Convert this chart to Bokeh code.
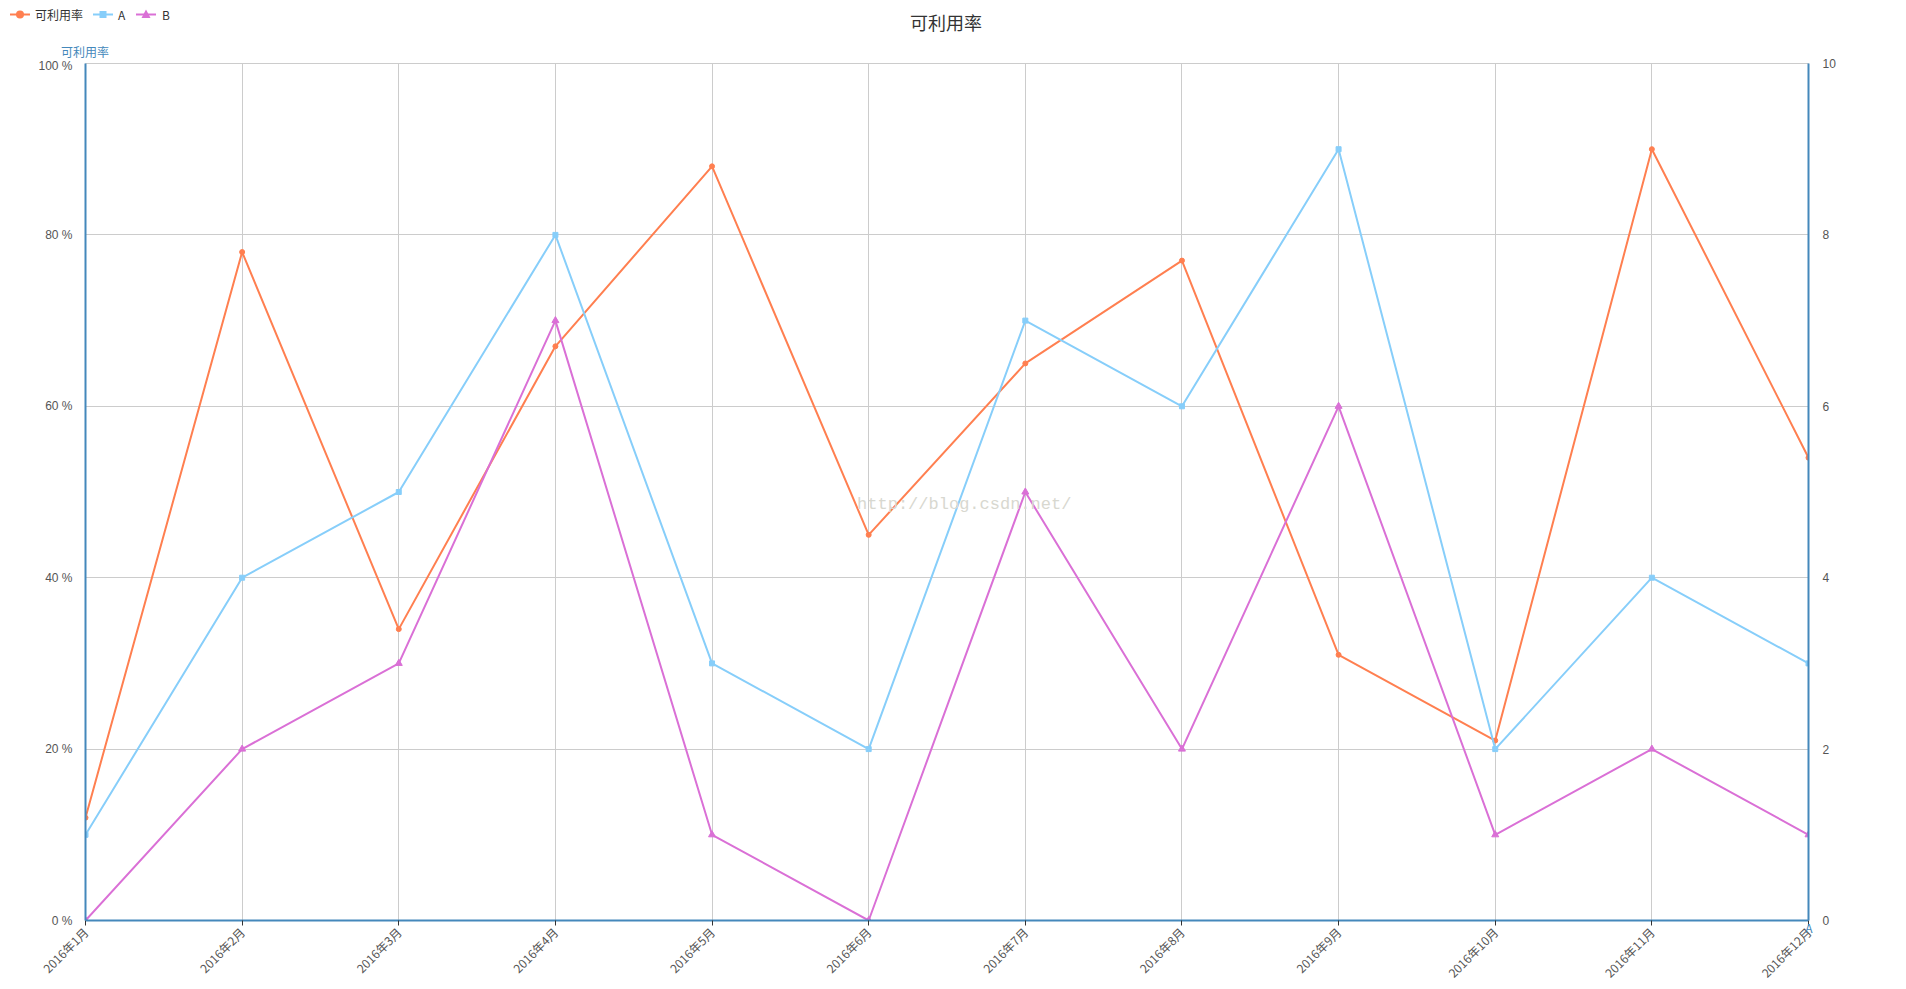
from math import pi
from bokeh.plotting import figure
from bokeh.layouts import column
from bokeh.models import (Range1d, LinearAxis, FixedTicker, PrintfTickFormatter,
                          Label, ColumnDataSource, Div)
from bokeh.embed import file_html
from bokeh.resources import INLINE

months = ["2016年1月", "2016年2月", "2016年3月", "2016年4月", "2016年5月", "2016年6月",
          "2016年7月", "2016年8月", "2016年9月", "2016年10月", "2016年11月", "2016年12月"]
rate = [12, 78, 34, 67, 88, 45, 65, 77, 31, 21, 90, 54]
series_a = [1, 4, 5, 8, 3, 2, 7, 6, 9, 2, 4, 3]
series_b = [0, 2, 3, 7, 1, 0, 5, 2, 6, 1, 2, 1]
series_names = ["可利用率", "A", "B"]
left_ticks = [0, 20, 40, 60, 80, 100]
right_ticks = [0, 2, 4, 6, 8, 10]

C_RATE = "#ff7f50"
C_A = "#87cefa"
C_B = "#da70d6"
AXIS_BLUE = "#4488bb"
GRID = "#cccccc"
TXT = "#333333"
CJK = "Noto Sans CJK SC"
W = 1890
HEAD_H = 58


def span(txt, cx, cy, size, color):
    return (f'<span style="position:absolute;left:{cx}px;top:{cy}px;'
            f'transform:translate(-50%,-50%);font-size:{size}px;line-height:{size + 2}px;'
            f'color:{color};white-space:nowrap;">{txt}</span>')


def left_span(txt, x, cy, size, color):
    return (f'<span style="position:absolute;left:{x}px;top:{cy}px;'
            f'transform:translateY(-50%);font-size:{size}px;line-height:{size + 2}px;'
            f'color:{color};white-space:nowrap;">{txt}</span>')


# ---------------- header: legend, title, left axis name ----------------
icons = (
    '<svg style="position:absolute;left:0;top:0" width="200" height="30">'
    f'<line x1="10" y1="14.5" x2="30" y2="14.5" stroke="{C_RATE}" stroke-width="2"/>'
    f'<circle cx="20" cy="14.5" r="4" fill="{C_RATE}"/>'
    f'<line x1="93" y1="14.5" x2="113" y2="14.5" stroke="{C_A}" stroke-width="2"/>'
    f'<rect x="99.5" y="11" width="7" height="7" fill="{C_A}"/>'
    f'<line x1="136" y1="14.5" x2="156" y2="14.5" stroke="{C_B}" stroke-width="2"/>'
    f'<polygon points="146,9.5 150.5,18 141.5,18" fill="{C_B}"/>'
    '</svg>'
)
head_html = (
    f'<div style="position:relative;width:{W}px;height:{HEAD_H}px;'
    f"font-family:'{CJK}',sans-serif;\">"
    + icons
    + left_span(series_names[0], 35, 14.5, 12, TXT)
    + left_span(series_names[1], 118, 14.5, 12, TXT)
    + left_span(series_names[2], 162, 14.5, 12, TXT)
    + span("可利用率", 946, 22, 18, TXT)
    + span("可利用率", 85, 52, 12, AXIS_BLUE)
    + '</div>'
)
head = Div(text=head_html, width=W, height=HEAD_H, margin=0)

# ---------------- main chart ----------------
xs = list(range(len(months)))
src = ColumnDataSource(dict(x=xs, rate=rate, a=series_a, b=series_b))

p = figure(frame_width=1723, frame_height=857, output_backend="svg", toolbar_location=None,
           x_range=Range1d(0, len(months) - 1), y_range=Range1d(0, 100),
           min_border_left=85, min_border_right=82, min_border_top=5, min_border_bottom=61,
           background_fill_color="white", border_fill_color="white")
p.extra_y_ranges = {"right": Range1d(0, 10)}
p.outline_line_color = GRID
p.outline_line_width = 1

p.xaxis.ticker = FixedTicker(ticks=xs)
p.xaxis.major_label_overrides = {i: m for i, m in enumerate(months)}
p.xaxis.major_label_orientation = pi / 4
p.xaxis.axis_line_color = AXIS_BLUE
p.xaxis.axis_line_width = 2
p.xaxis.major_tick_line_color = TXT
p.xaxis.major_tick_out = 5
p.xaxis.major_tick_in = 0
p.xaxis.minor_tick_line_color = None
p.xaxis.major_label_text_font = CJK
p.xaxis.major_label_text_font_size = "12px"
p.xaxis.major_label_text_color = "#555555"
p.xaxis.major_label_standoff = 4

p.yaxis.ticker = FixedTicker(ticks=left_ticks)
p.yaxis.formatter = PrintfTickFormatter(format="%d %%")
p.yaxis.axis_line_color = AXIS_BLUE
p.yaxis.axis_line_width = 2
p.yaxis.major_tick_line_color = None
p.yaxis.minor_tick_line_color = None
p.yaxis.major_label_text_font = "Liberation Sans"
p.yaxis.major_label_text_font_size = "12px"
p.yaxis.major_label_text_color = "#555555"
p.yaxis.major_label_standoff = 7

ry = LinearAxis(y_range_name="right", ticker=FixedTicker(ticks=right_ticks))
ry.axis_line_color = AXIS_BLUE
ry.axis_line_width = 2
ry.major_tick_line_color = None
ry.minor_tick_line_color = None
ry.major_label_text_font = "Liberation Sans"
ry.major_label_text_font_size = "12px"
ry.major_label_text_color = "#555555"
ry.major_label_standoff = 8
p.add_layout(ry, "right")

p.xgrid.grid_line_color = GRID
p.ygrid.grid_line_color = GRID

p.line("x", "rate", source=src, line_color=C_RATE, line_width=2)
p.scatter("x", "rate", source=src, marker="circle", size=5, fill_color=C_RATE, line_color=C_RATE)
p.line("x", "a", source=src, y_range_name="right", line_color=C_A, line_width=2)
p.scatter("x", "a", source=src, y_range_name="right", marker="square", size=5,
          fill_color=C_A, line_color=C_A)
p.line("x", "b", source=src, y_range_name="right", line_color=C_B, line_width=2)
p.scatter("x", "b", source=src, y_range_name="right", marker="triangle", size=7,
          fill_color=C_B, line_color=C_B)

p.add_layout(Label(x=5.61, y=48.5, text="http://blog.csdn.net/", text_align="center",
                   text_baseline="middle", text_font="Liberation Mono", text_font_size="17px",
                   text_color="#d8d8d0"))

# ---------------- footer overlay: right axis name "A" under the axis end ----------------
FOOT_H = 20
foot_html = (
    f'<div style="position:relative;width:{W}px;height:{FOOT_H}px;'
    f"font-family:'{CJK}',sans-serif;\">"
    + span(series_names[1], 1809, 10, 12, AXIS_BLUE)
    + '</div>'
)
foot = Div(text=foot_html, width=W, height=FOOT_H, margin=(-71, 0, 0, 0))

layout = column(head, p, foot, spacing=0)
open("out.html", "w").write(file_html(layout, INLINE))
